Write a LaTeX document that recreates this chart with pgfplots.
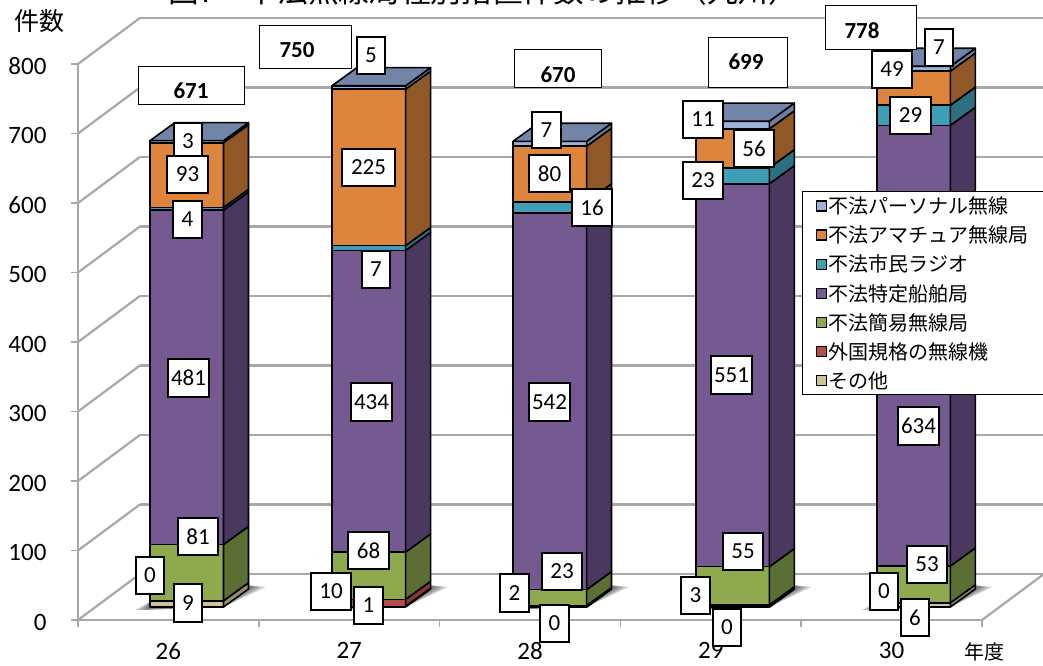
\documentclass[border=0pt]{standalone}
\usepackage{pgfplots}
\pgfplotsset{compat=1.18}
\usepackage{fontspec}
\setmainfont{Carlito}
\newfontfamily\jp{Noto Sans CJK JP}
\definecolor{gridc}{HTML}{A8A8A8}
\definecolor{cb}{HTML}{9DB2D8}\definecolor{cbs}{HTML}{6E7FA0}\definecolor{cbt}{HTML}{7285A9}
\definecolor{co}{HTML}{DD853D}\definecolor{cos}{HTML}{8F5826}
\definecolor{ct}{HTML}{3F9DB5}\definecolor{cts}{HTML}{2C7082}
\definecolor{cp}{HTML}{745A90}\definecolor{cps}{HTML}{4A3860}
\definecolor{cg}{HTML}{8FAA4E}\definecolor{cgs}{HTML}{5B6E33}
\definecolor{cr}{HTML}{B54D4A}\definecolor{crs}{HTML}{8A3634}
\definecolor{cn}{HTML}{CDC49A}\definecolor{cns}{HTML}{98916F}
\pgfplotsset{sq/.style={legend image code/.code={\draw[fill=#1,draw=black,line width=1.3pt] (0pt,-5pt) rectangle (10pt,5pt);}}}
\tikzset{bf/.style={draw=black,line width=1.6pt,line join=round}}
% one stacked block: front face and side face
\newcommand\seg[3]{%
  \pgfmathsetmacro\ya{\cum}%
  \pgfmathsetmacro\yb{\cum+#1}%
  \pgfmathsetmacro\yc{\ya+26}%
  \pgfmathsetmacro\yd{\yb+26}%
  \addplot[fill=#2,bf,forget plot] coordinates {(\xa,\ya)(\xb,\ya)(\xb,\yb)(\xa,\yb)} --cycle;
  \addplot[fill=#3,bf,forget plot] coordinates {(\xb,\ya)(\xc,\yc)(\xc,\yd)(\xb,\yb)} --cycle;
  \global\let\cum\yb
}
\newcommand\shadowlayer[1]{%
  \pgfmathsetmacro\sa{\xa-#1*0.083}%
  \pgfmathsetmacro\sb{\xb}%
  \pgfmathsetmacro\sc{\xc+#1*0.094}%
  \addplot[fill=black,draw=none,fill opacity=0.2,forget plot] coordinates {(\sa,14.4)(\sb,18.7)(\sc,47.5)(\xc,50)(\xa,26)} --cycle;
}
\newcommand\onebar[8]{%
  \pgfmathsetmacro\xa{#1}\pgfmathsetmacro\xb{#1+0.407}\pgfmathsetmacro\xc{#1+0.545}%
  \pgfmathsetmacro\xd{#1+0.138}%
  \shadowlayer{1}\shadowlayer{0.7}\shadowlayer{0.4}%
  \gdef\cum{18.7}%
  \seg{#2}{cn}{cns}\seg{#3}{cr}{crs}\seg{#4}{cg}{cgs}\seg{#5}{cp}{cps}%
  \seg{#6}{ct}{cts}\seg{#7}{co}{cos}\seg{#8}{cb}{cbs}%
  \pgfmathsetmacro\ye{\cum+26}%
  \addplot[fill=cbt,bf,forget plot] coordinates {(\xa,\cum)(\xb,\cum)(\xc,\ye)(\xd,\ye)} --cycle;
}
\newcommand\lab[5]{% left right top bottom text (thick box)
  \draw[fill=white,draw=black,line width=1.5pt] (#1,{665-#3}) rectangle (#2,{665-#4});
  \node[inner sep=0pt,font=\fontsize{23}{23}\selectfont] at ({(#1+#2)/2},{665-(#3+#4)/2}) {#5};
}
\newcommand\tot[7]{% left right top bottom textx texty text (thin box)
  \draw[fill=white,draw=black,line width=0.9pt] (#1,{665-#3}) rectangle (#2,{665-#4});
  \node[inner sep=0pt,font=\fontsize{23}{23}\selectfont\bfseries] at (#5,{665-#6}) {#7};
}
\begin{document}
\begin{tikzpicture}[x=1pt,y=1pt]
\clip (0,0) rectangle (1043,665);
\begin{axis}[
  at={(78pt,45pt)},anchor=south west,
  scale only axis,width=904pt,height=556pt,
  xmin=0,xmax=5,ymin=0,ymax=800,clip=false,
  axis x line*=bottom,axis y line*=left,
  axis line style={draw=gridc,line width=2.2pt,-},
  xtick={0,1,2,3,4,5},xticklabels={26,27,28,29,30},x tick label as interval,
  ytick={0,100,200,300,400,500,600,700,800},
  tick style={draw=gridc,line width=1.5pt},
  major tick length=7pt,
  tick align=outside,
  /pgf/number format/assume math mode=true,
  ticklabel style={font=\fontsize{25}{25}\selectfont,text=black},
  yticklabel style={xshift=-21pt,yshift=-2pt},
  xticklabel style={yshift=-15pt,inner sep=0pt,text depth=0pt},
  legend style={at={(axis cs:4.004,617)},anchor=north west,draw=black,line width=1.2pt,fill=white,
    font=\jp\fontsize{20}{20}\selectfont,row sep=6.6pt,inner xsep=13pt,inner ysep=3pt,
    cells={anchor=west,text height=17pt,text depth=5pt}},
  legend cell align=left,
]
% walls
\addplot[draw=gridc,line width=2.2pt,forget plot] coordinates {(0.343,66.3)(5.343,66.3)};
\addplot[draw=gridc,line width=2.2pt,forget plot] coordinates {(0.343,166.3)(5.343,166.3)};
\addplot[draw=gridc,line width=2.2pt,forget plot] coordinates {(0.343,266.3)(5.343,266.3)};
\addplot[draw=gridc,line width=2.2pt,forget plot] coordinates {(0.343,366.3)(5.343,366.3)};
\addplot[draw=gridc,line width=2.2pt,forget plot] coordinates {(0.343,466.3)(5.343,466.3)};
\addplot[draw=gridc,line width=2.2pt,forget plot] coordinates {(0.343,566.3)(5.343,566.3)};
\addplot[draw=gridc,line width=2.2pt,forget plot] coordinates {(0.343,666.3)(5.343,666.3)};
\addplot[draw=gridc,line width=2.2pt,forget plot] coordinates {(0.343,766.3)(5.343,766.3)};
\addplot[draw=gridc,line width=2.2pt,forget plot] coordinates {(0.343,866.3)(5.343,866.3)};
\addplot[draw=gridc,line width=2.2pt,forget plot] coordinates {(0,0)(0.343,66.3)};
\addplot[draw=gridc,line width=2.2pt,forget plot] coordinates {(0,100)(0.343,166.3)};
\addplot[draw=gridc,line width=2.2pt,forget plot] coordinates {(0,200)(0.343,266.3)};
\addplot[draw=gridc,line width=2.2pt,forget plot] coordinates {(0,300)(0.343,366.3)};
\addplot[draw=gridc,line width=2.2pt,forget plot] coordinates {(0,400)(0.343,466.3)};
\addplot[draw=gridc,line width=2.2pt,forget plot] coordinates {(0,500)(0.343,566.3)};
\addplot[draw=gridc,line width=2.2pt,forget plot] coordinates {(0,600)(0.343,666.3)};
\addplot[draw=gridc,line width=2.2pt,forget plot] coordinates {(0,700)(0.343,766.3)};
\addplot[draw=gridc,line width=2.2pt,forget plot] coordinates {(0,800)(0.343,866.3)};
\addplot[draw=gridc,line width=2.2pt,forget plot] coordinates {(5,0)(5.343,66.3)};
% bars: left edge, その他, 外国規格, 簡易, 特定船舶, 市民ラジオ, アマチュア, パーソナル
\onebar{0.398}{9}{0}{81}{481}{4}{93}{3}
\onebar{1.405}{1}{10}{68}{434}{7}{225}{5}
\onebar{2.406}{0}{2}{23}{542}{16}{80}{7}
\onebar{3.417}{0}{3}{55}{551}{23}{56}{11}
\onebar{4.418}{6}{0}{53}{634}{29}{49}{7}
% legend
\addlegendimage{sq=cb}\addlegendentry{不法パーソナル無線}
\addlegendimage{sq=co}\addlegendentry{不法アマチュア無線局}
\addlegendimage{sq=ct}\addlegendentry{不法市民ラジオ}
\addlegendimage{sq=cp}\addlegendentry{不法特定船舶局}
\addlegendimage{sq=cg}\addlegendentry{不法簡易無線局}
\addlegendimage{sq=cr}\addlegendentry{外国規格の無線機}
\addlegendimage{sq=cn}\addlegendentry{その他}
\end{axis}
% title and unit labels
\node[inner sep=0pt,font=\jp\fontsize{30.7}{31}\selectfont,anchor=west] at (168,{665+9}) {図7　不法無線局種別措置件数の推移（九州）};
\node[inner sep=0pt,font=\jp\fontsize{25}{25}\selectfont] at (39,{665-21}) {件数};
\node[inner sep=0pt,font=\jp\fontsize{20}{20}\selectfont] at (984,{665-652}) {年度};
% totals
\tot{138}{244}{66}{104}{191}{91}{671}
\tot{259}{351}{25}{68}{297}{50}{750}
\tot{514}{601}{49}{87}{558}{75}{670}
\tot{708}{787}{37}{87}{746}{62}{699}
\tot{825}{916}{5}{49}{862}{31}{778}
% value labels
\lab{174}{202}{123}{160}{3}
\lab{167}{208}{156}{193}{93}
\lab{173}{202}{201}{238}{4}
\lab{168}{209}{359}{397}{481}
\lab{178}{218}{518}{555}{81}
\lab{136}{164}{557}{594}{0}
\lab{174}{202}{584}{622}{9}
\lab{357}{385}{37}{74}{5}
\lab{342}{395}{149}{186}{225}
\lab{362}{390}{251}{288}{7}
\lab{351}{392}{383}{421}{434}
\lab{348}{389}{532}{569}{68}
\lab{311}{351}{573}{610}{10}
\lab{354}{383}{587}{624}{1}
\lab{532}{561}{112}{148}{7}
\lab{529}{570}{155}{192}{80}
\lab{572}{612}{189}{226}{16}
\lab{529}{570}{383}{421}{542}
\lab{542}{582}{553}{590}{23}
\lab{500}{529}{574}{612}{2}
\lab{540}{569}{605}{642}{0}
\lab{683}{723}{101}{138}{11}
\lab{734}{774}{130}{167}{56}
\lab{683}{723}{162}{199}{23}
\lab{711}{752}{356}{394}{551}
\lab{723}{763}{533}{570}{55}
\lab{681}{710}{577}{614}{3}
\lab{713}{741}{609}{646}{0}
\lab{925}{953}{29}{66}{7}
\lab{872}{912}{51}{88}{49}
\lab{890}{931}{97}{134}{29}
\lab{898}{939}{407}{445}{634}
\lab{907}{947}{546}{583}{53}
\lab{870}{898}{573}{610}{0}
\lab{901}{929}{599}{636}{6}
\end{tikzpicture}
\end{document}
